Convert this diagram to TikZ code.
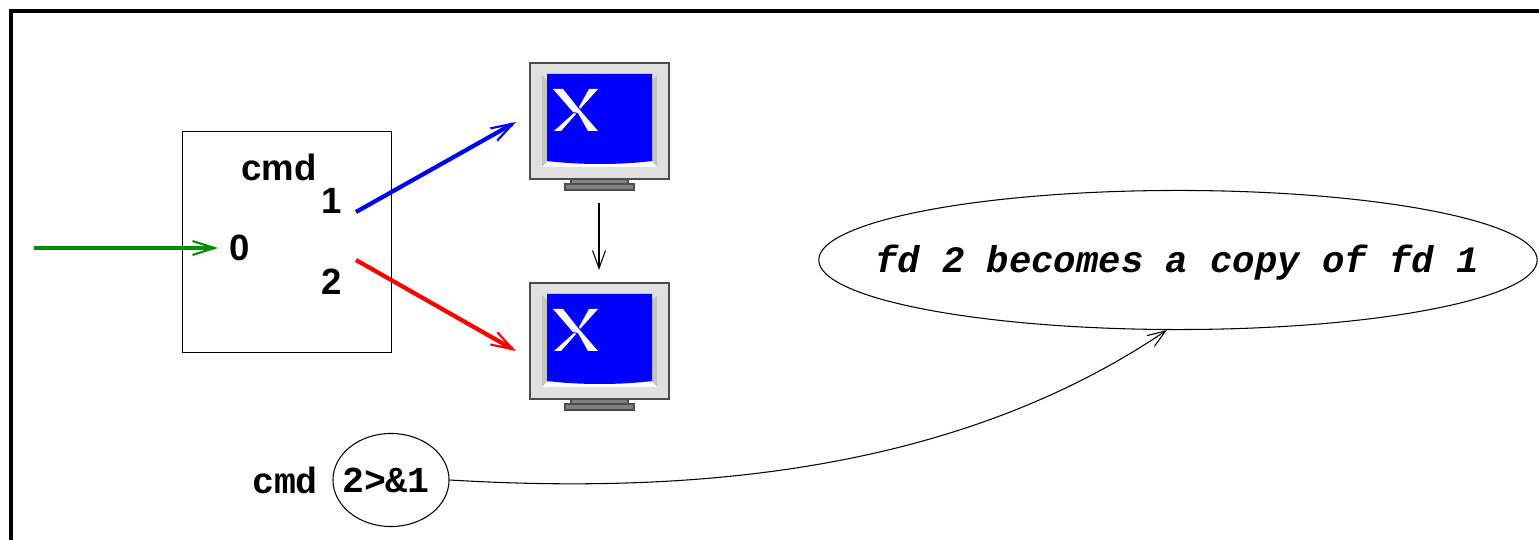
\documentclass[tikz,border=0pt]{standalone}
\usepackage{fontspec}
\setmainfont{Liberation Sans}
\setmonofont{Liberation Mono}
\usetikzlibrary{arrows.meta,shapes.geometric}
\definecolor{screenrim}{HTML}{E0E0E0}
\definecolor{screenside}{HTML}{C4C4C4}
\definecolor{standgray}{HTML}{808080}
\definecolor{fdgreen}{HTML}{009000}
\begin{document}
\begin{tikzpicture}[x=0.01cm,y=-0.01cm,line width=0.3pt,
lab/.style={font=\fontsize{10.4}{12}\bfseries\selectfont},
code/.style={font=\fontsize{10.4}{12}\ttfamily\bfseries\selectfont},
fdline/.style={line width=1.2pt,-{Straight Barb[length=2.2mm,width=1.4mm,line width=.6pt]}},
thinline/.style={-{Straight Barb[length=1.8mm,width=1.3mm,line width=.3pt]}},
bubble/.style={draw,ellipse,inner sep=0pt},
monitor/.pic={
\draw[draw=black!70,fill=screenrim](0,0)rectangle(139,116);
\fill[screenside](12,12)--(17,17)--(17,99)--(12,104)--cycle;
\fill[screenside](127,12)--(122,17)--(122,99)--(127,104)--cycle;
\fill[white](12,104)--(17,99)--(122,99)--(127,104)--cycle;
\fill[blue](17,11)--(122,11)--(122,98)..controls(90,102)and(50,102)..(17,98)--cycle;
\fill[white](23,26)--(33,26)--(48,45)--(68,68)--(58,68)--(48,50)--(43,49)--cycle;
\fill[white](59,26)--(68,26)--(50,46)--(49,44)--cycle;
\fill[white](24,68)--(31,68)--(46,51)--(44,50)--cycle;
\draw[draw=black!70,fill=standgray](41,116)rectangle(98,121);
\draw[draw=black!70,fill=standgray](35,121)rectangle(104,127);
}]
\useasboundingbox(0,0)rectangle(1539,540);
\draw[line width=.9pt](11,540)--(11,11)--(1539,11);
\node[draw,minimum width=2.08cm,minimum height=2.2cm,inner sep=0pt](cmdbox)at(287,242){};
\node[lab](cmdname)at(279,167){cmd};
\node[lab](fdzero)at(240,248){0};
\node[lab](fdone)at(332,201){1};
\node[lab](fdtwo)at(332,282){2};
\draw(530,63)pic{monitor};
\draw(530,283)pic{monitor};
\coordinate(greenstart)at(34,248);
\coordinate(greenend)at(218,248);
\coordinate(bluestart)at(356,212);
\coordinate(blueend)at(516,122);
\coordinate(redstart)at(356,260);
\coordinate(redend)at(516,351);
\coordinate(screenone)at(599,203);
\coordinate(screentwo)at(599,270);
\draw[fdline,fdgreen](greenstart)--(greenend);
\draw[fdline,blue](bluestart)--(blueend);
\draw[fdline,red](redstart)--(redend);
\draw[thinline](screenone)--(screentwo);
\node[code](cmdword)at(285,480){cmd};
\node[bubble,minimum width=1.16cm,minimum height=.93cm](redir)at(391,480){};
\node[code](redirtext)at(386,480){2>\&1};
\node[bubble,minimum width=7.18cm,minimum height=1.39cm](note)at(1178,260){};
\node[font=\fontsize{10.6}{12}\ttfamily\bfseries\itshape\selectfont](notetext)at(1177,263){fd 2 becomes a copy of fd 1};
\draw[thinline](redir.east)..controls(700,495)and(960,470)..(note.261);
\end{tikzpicture}
\end{document}
